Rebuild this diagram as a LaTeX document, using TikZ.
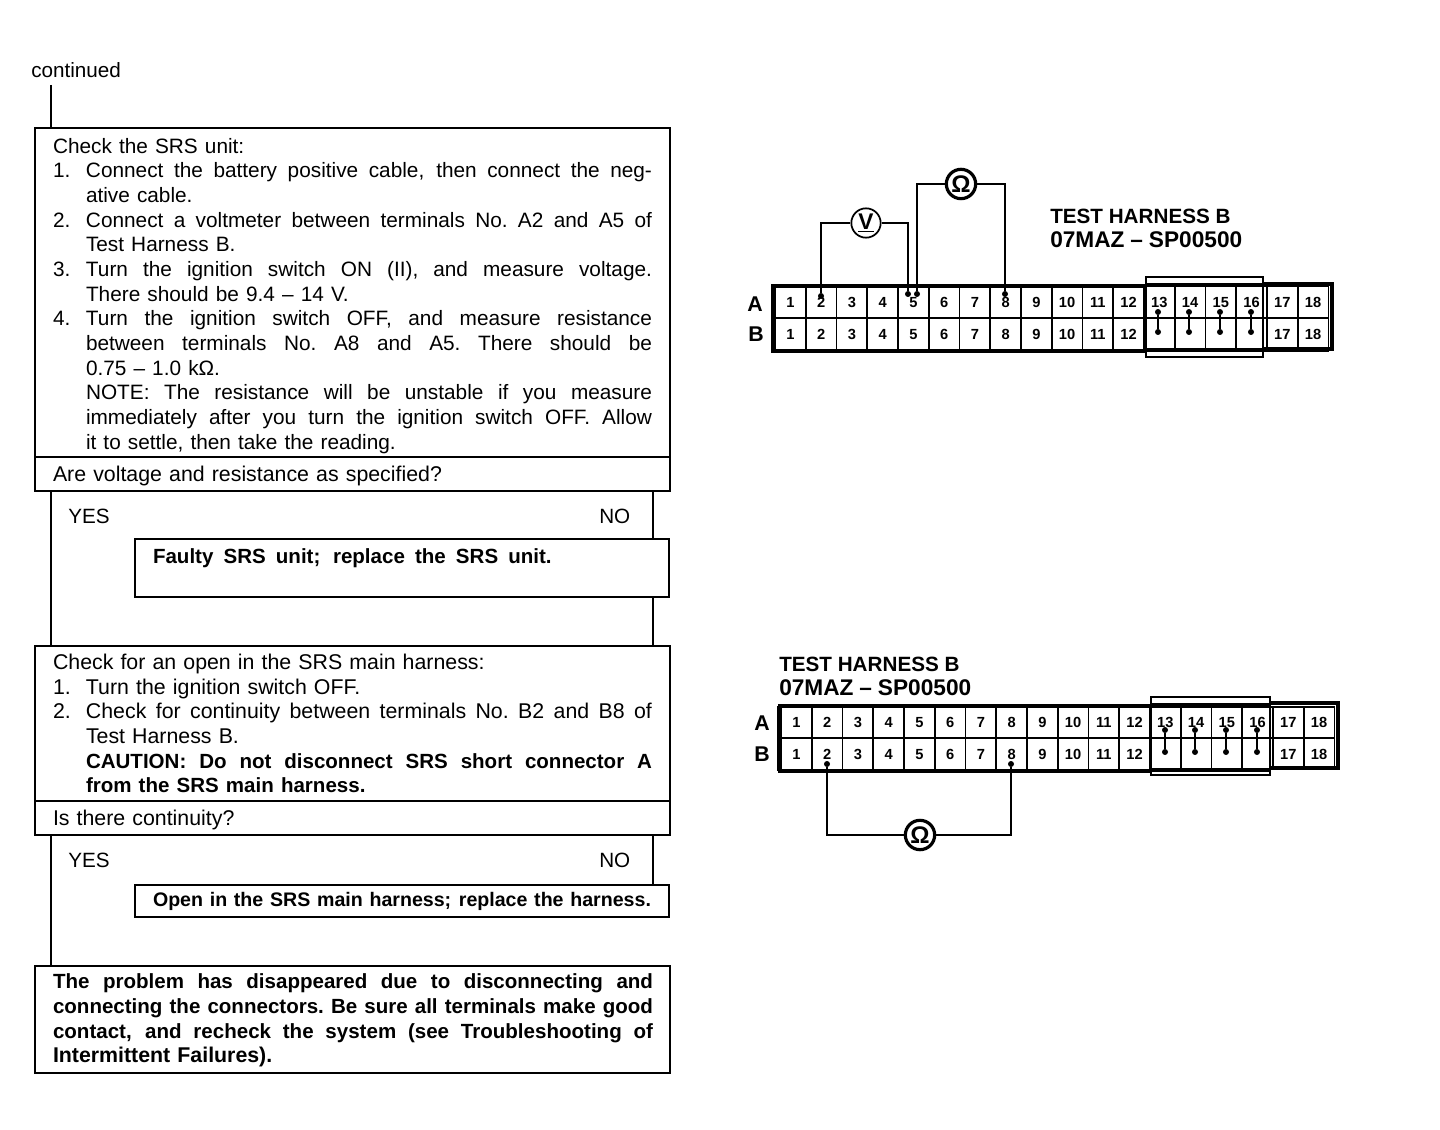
\documentclass[tikz,border=0pt]{standalone}
\usepackage{fontspec}
\setmainfont{Liberation Sans}
\usetikzlibrary{calc}
\newcommand\sline[2]{\makebox[#1][s]{\spaceskip=.25em plus 1fil minus .08em\xspaceskip=\spaceskip\relax #2}}
\newcommand\numl[2]{\makebox[24.75pt][l]{#1}\sline{424.5pt}{#2}}
\newcommand\numr[2]{\makebox[24.75pt][l]{#1}#2}
\newcommand\contl[1]{\hspace*{24.75pt}\sline{424.5pt}{#1}}
\newcommand\ragl[1]{\hspace*{24.75pt}#1}
\newcommand\fulll[1]{\sline{450pt}{#1}}
\newcommand\tall{\fontsize{16}{18.5}\selectfont}
\newcommand\bold{\fontsize{15.4}{18.5}\selectfont\bfseries}
\newcommand\partno{{\fontsize{17}{17.4}\selectfont\makebox[144pt][s]{07MAZ\hfill--\hfill SP00500}}}
\tikzset{
  x=0.75pt,y=-0.75pt,
  flowbox/.style={draw,line width=1.1pt,anchor=north west,inner xsep=13.5pt,inner ysep=0pt,outer sep=0pt,
    text width=449.25pt,align=left,font=\tall},
  conn/.style={line width=1.1pt},
  plain/.style={anchor=west,inner sep=0pt,font=\fontsize{15.5}{18}\selectfont},
  title/.style={anchor=north west,inner sep=0pt,align=left,font=\fontsize{15.5}{17.6}\selectfont\bfseries},
  cell/.style={draw,line width=1.3pt,minimum width=23.06pt,minimum height=#1,inner sep=0pt,outer sep=0pt,text height=8pt,text depth=0pt,font=\fontsize{11}{12}\selectfont\bfseries},
  rowlab/.style={inner sep=0pt,font=\fontsize{16}{18}\selectfont\bfseries},
  meter/.style={draw,circle,line width=1.3pt,minimum size=22pt,inner sep=0pt,fill=white,font=\fontsize{17}{20}\selectfont\bfseries},
  ohm/.style={meter,line width=2.4pt,font=\fontsize{18}{20}\selectfont\bfseries},
  frame/.style={draw,line width=1.1pt},
  heavy/.style={draw,line width=2.4pt},
  wire/.style={line width=1.3pt},
  pin/.style={fill,circle,inner sep=0pt,minimum size=4.5pt},
}
\begin{document}
\begin{tikzpicture}
\useasboundingbox (0,0) rectangle (1440,1130);
% flowchart
\node[plain] (cont) at (31,70) {continued};
\node[flowbox,minimum height=246.75pt] (b1) at (35,128) {\rule{0pt}{16pt}%
\fontsize{15.6}{18.5}\selectfont Check the SRS unit:\\
\numl{1.}{Connect the battery positive cable, then connect the neg-}\\
\ragl{ative cable.}\\
\numl{2.}{Connect a voltmeter between terminals No. A2 and A5 of}\\
\ragl{Test Harness B.}\\
\numl{3.}{Turn the ignition switch ON (II), and measure voltage.}\\
\ragl{There should be 9.4 -- 14 V.}\\
\numl{4.}{Turn the ignition switch OFF, and measure resistance}\\
\contl{between terminals No. A8 and A5. There should be}\\
\ragl{0.75 -- 1.0 kΩ.}\\
\contl{NOTE: The resistance will be unstable if you measure}\\
\contl{immediately after you turn the ignition switch OFF. Allow}\\
\ragl{it to settle, then take the reading.}};
\node[flowbox,minimum height=25.5pt] (q1) at (35,457) {\rule{0pt}{15pt}Are voltage and resistance as specified?};
\node[flowbox,text width=373.5pt,minimum height=43.5pt] (r1) at (135,539) {\bold\sline{299pt}{Faulty SRS unit; replace the SRS unit.}\\ \mbox{}};
\node[flowbox,minimum height=116.25pt] (b2) at (35,646) {%
\fontsize{16}{18.5}\selectfont Check for an open in the SRS main harness:\\
\numr{1.}{Turn the ignition switch OFF.}\\
\numl{2.}{Check for continuity between terminals No. B2 and B8 of}\\
\ragl{Test Harness B.}\\
\contl{\bold CAUTION: Do not disconnect SRS short connector A}\\
\ragl{\bold from the SRS main harness.}};
\node[flowbox,minimum height=25.5pt] (q2) at (35,801) {\rule{0pt}{15pt}Is there continuity?};
\node[flowbox,text width=373.5pt,minimum height=24pt] (r2) at (135,885) {\fontsize{14.7}{18}\selectfont\bfseries\sline{373.5pt}{Open in the SRS main harness; replace the harness.}};
\node[flowbox,minimum height=80.25pt] (b3) at (35,966) {\rule{0pt}{13pt}\bold
\fulll{The problem has disappeared due to disconnecting and}\\
\fulll{connecting the connectors. Be sure all terminals make good}\\
\fulll{contact, and recheck the system (see Troubleshooting of}\\
{\fontsize{16}{18.5}\selectfont Intermittent Failures).}};
\node[plain] (y1) at (68,516) {YES};
\node[plain] (n1) at (599,516) {NO};
\node[plain] (y2) at (68,860) {YES};
\node[plain] (n2) at (599,860) {NO};
\coordinate (xl) at (51,85);
\coordinate (xr) at (653,0);
\draw[conn] (xl) -- (xl |- b1.north);
\draw[conn] (xl |- q1.south) -- (xl |- b2.north);
\draw[conn] (xr |- q1.south) -- (xr |- r1.north);
\draw[conn] (xr |- r1.south) -- (xr |- b2.north);
\draw[conn] (xl |- q2.south) -- (xl |- b3.north);
\draw[conn] (xr |- q2.south) -- (xr |- r2.north);
% top connector
\foreach \i in {1,...,18}{
  \node[cell=24pt] (ta\i) at ({775+30.75*(\i-0.5)},302) {\i};
  \ifnum\i>12 \ifnum\i<17 \node[cell=24.75pt] (tb\i) at ({775+30.75*(\i-0.5)},334.5) {};
  \else \node[cell=24.75pt] (tb\i) at ({775+30.75*(\i-0.5)},334.5) {\i}; \fi
  \else \node[cell=24.75pt] (tb\i) at ({775+30.75*(\i-0.5)},334.5) {\i}; \fi
}
\path[heavy] (771,286) -- (1146,286) (771,351) -- (1146,351) (773,286) -- (773,351);
\path[heavy] (1146,285) -- (1263,285) (1146,350) -- (1263,350);
\path[heavy] (1263,284) -- (1332,284) -- (1332,349) -- (1263,349);
\draw[frame] (1146,277) rectangle (1263,357);
\node[rowlab] (tA) at (755,304) {A};
\node[rowlab] (tB) at (756,334) {B};
\node[title] (t1) at (1050,209) {TEST HARNESS B\\\partno};
\foreach \i/\x in {13/1158,14/1189,15/1220,16/1251}{
  \node[pin] (tja\i) at (\x,312) {};
  \node[pin] (tjb\i) at (\x,332) {};
  \draw[wire] (tja\i) -- (tjb\i);
}
\node[meter] (V) at (866,223) {\underline{V}};
\node[ohm] (O1) at (961,184) {Ω};
\node[pin] (p2) at (821,296) {};
\node[pin] (p5a) at (908,294) {};
\node[pin] (p5b) at (917,294) {};
\node[pin] (p8) at (1005,294) {};
\draw[wire] (p2) |- (V);
\draw[wire] (V) -| (p5a);
\draw[wire] (p5b) |- (O1);
\draw[wire] (O1) -| (p8);
% bottom connector
\foreach \i in {1,...,18}{
  \node[cell=23.25pt] (ba\i) at ({781+30.75*(\i-0.5)},722.5) {\i};
  \ifnum\i>12 \ifnum\i<17 \node[cell=23.25pt] (bb\i) at ({781+30.75*(\i-0.5)},754) {};
  \else \node[cell=23.25pt] (bb\i) at ({781+30.75*(\i-0.5)},754) {\i}; \fi
  \else \node[cell=23.25pt] (bb\i) at ({781+30.75*(\i-0.5)},754) {\i}; \fi
}
\path[heavy] (778,706) -- (1151,706) (778,771) -- (1151,771) (779,706) -- (779,771);
\path[heavy] (1151,705) -- (1270,705) (1151,770) -- (1270,770);
\path[heavy] (1270,703) -- (1338,703) -- (1338,768) -- (1270,768);
\draw[frame] (1151,697) rectangle (1270,775);
\node[rowlab] (bA) at (762,723) {A};
\node[rowlab] (bB) at (762,754) {B};
\node[title] (t2) at (779,657) {TEST HARNESS B\\\partno};
\foreach \i/\x in {13/1165,14/1195,15/1226,16/1257}{
  \node[pin] (bja\i) at (\x,730) {};
  \node[pin] (bjb\i) at (\x,752) {};
  \draw[wire] (bja\i) -- (bjb\i);
}
\node[ohm] (O2) at (920,835) {Ω};
\node[pin] (q2p) at (827,764) {};
\node[pin] (q8p) at (1011,764) {};
\draw[wire] (q2p) |- (O2);
\draw[wire] (O2) -| (q8p);
\end{tikzpicture}
\end{document}
